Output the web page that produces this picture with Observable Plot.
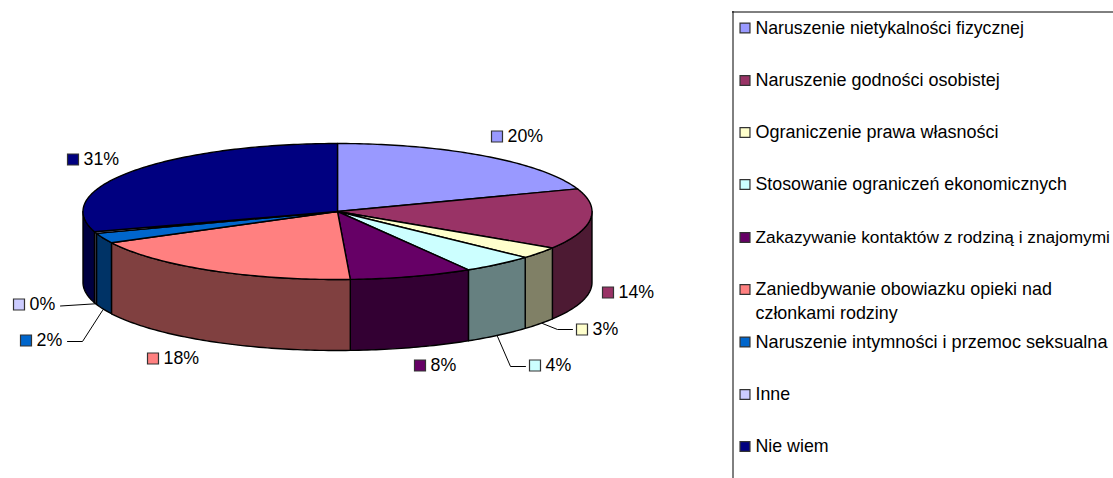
<!DOCTYPE html>
<html><head><meta charset="utf-8">
<style>html,body{margin:0;padding:0;background:#fff}svg{display:block}</style>
<script src="https://cdn.jsdelivr.net/npm/d3@7"></script>
<script src="https://cdn.jsdelivr.net/npm/@observablehq/plot@0.6"></script>
</head><body><div id="chart"></div>
<script>
const categories = ["Naruszenie nietykalności fizycznej","Naruszenie godności osobistej","Ograniczenie prawa własności","Stosowanie ograniczeń ekonomicznych","Zakazywanie kontaktów z rodziną i znajomymi","Zaniedbywanie obowiazku opieki nad\nczłonkami rodziny","Naruszenie intymności i przemoc seksualna","Inne","Nie wiem"];
const sliceShares = [19.6,14.4,2.8,4.6,7.8,18.2,2.4,0.4,29.8];
const percentLabels = ["20%","14%","3%","4%","8%","18%","2%","0%","31%"];
const topColors = ["#9999FF","#993366","#FFFFCC","#CCFFFF","#660066","#FF8080","#0066CC","#CCCCFF","#000080"];
const sideColors = ["#4D1A33","#4D1A33","#808066","#668080","#330033","#804040","#003366","#666680","#000040"];

// layout
const W = 1113, H = 478;
const pie = {cx:337, cy:211, rx:254.5, ry:68, depth:71};
const labelAt = [[496.5,136],[607.5,292],[581.5,329],[534.5,365],[419.5,365],[152.5,358],[25.5,340],[18.5,304],[72.5,159]];
const legendRows = [27.5,80,132,184,237,289,341.5,394,446];
const legendFontSizes = [17.7,18,18,17.8,17.3,17.9,18.1,17.8,17.8];
const leaderPaths = [[[572,329],[557,329],[542,323]],[[525,366],[510,366],[497,336]],[[60,305.5],[95,303.3]],[[67,341],[82,341],[102,310]]];

const total = d3.sum(sliceShares);
const px = t => pie.cx + pie.rx*Math.sin(t*Math.PI/180);
const py = t => pie.cy - pie.ry*Math.cos(t*Math.PI/180);
const arc = (a,b) => { const n = Math.max(1,Math.ceil(b-a)); return d3.range(n+1).map(i=>a+(b-a)*i/n); };

let cum = 0;
const tops = [], sides = [];
sliceShares.forEach((v,i)=>{
  const a = cum/total*360, b = (cum+v)/total*360; cum += v;
  const ring = [[pie.cx,pie.cy],...arc(a,b).map(t=>[px(t),py(t)]),[pie.cx,pie.cy]];
  ring.forEach(p=>tops.push({id:i,x:p[0],y:p[1],c:topColors[i]}));
  const a2 = Math.max(a,90), b2 = Math.min(b,270);
  if (b2>a2) {
    const edge = arc(a2,b2);
    const pts = [...edge.map(t=>[px(t),py(t)]),...edge.slice().reverse().map(t=>[px(t),py(t)+pie.depth])];
    pts.push(pts[0]);
    pts.forEach(p=>sides.push({id:i,x:p[0],y:p[1],c:sideColors[i]}));
  }
});
const labels = percentLabels.map((t,i)=>({t,x:labelAt[i][0],y:labelAt[i][1],c:topColors[i]}));
const legend = categories.map((t,i)=>({t,y:legendRows[i],c:topColors[i],s:legendFontSizes[i]}));
const legendText = legend.flatMap(d=>d.t.split("\n").map((s,k)=>({t:s,y:d.y+k*24,s:d.s})));
const leaders = leaderPaths.flatMap((p,i)=>p.map(q=>({id:i,x:q[0],y:q[1]})));
const font = {fontFamily:"Liberation Sans",fill:"#000",textAnchor:"start",lineAnchor:"middle"};

const plot = Plot.plot({
  width:W,height:H,margin:0,
  x:{domain:[0,W],range:[0,W],axis:null},
  y:{domain:[0,H],range:[0,H],axis:null},
  color:{type:"identity"},
  marks:[
    Plot.line(sides,{x:"x",y:"y",z:"id",fill:"c",stroke:"#000",strokeWidth:1.4,strokeLinejoin:"round"}),
    Plot.line(tops,{x:"x",y:"y",z:"id",fill:"c",stroke:"#000",strokeWidth:1.4,strokeLinejoin:"round"}),
    Plot.line(leaders,{x:"x",y:"y",z:"id",stroke:"#000",strokeWidth:1}),
    Plot.dot(labels,{x:"x",y:"y",symbol:"square",r:6.2,fill:"c",stroke:"#333",strokeWidth:1.2}),
    Plot.text(labels,{x:d=>d.x+10.5,y:"y",text:"t",fontSize:17.8,...font}),
    Plot.ruleX([732.5],{y1:11,y2:H,stroke:"#000",strokeWidth:1}),
    Plot.ruleY([11.5],{x1:732,x2:W,stroke:"#000",strokeWidth:1}),
    Plot.dot(legend,{x:744.5,y:"y",symbol:"square",r:5.6,fill:"c",stroke:"#333",strokeWidth:1.2}),
    Plot.text(legendText,{x:755,y:"y",text:"t",fontSize:d=>d.s,...font})
  ]
});
document.getElementById("chart").append(plot);
</script></body></html>
